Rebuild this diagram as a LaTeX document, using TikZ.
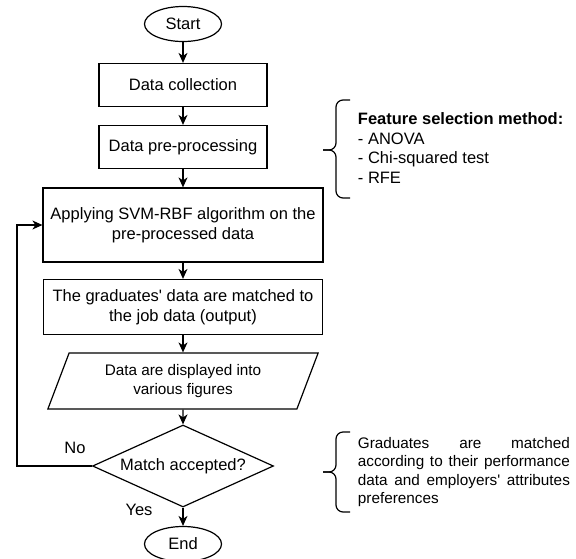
\documentclass[tikz,border=0pt]{standalone}
\usepackage{fontspec}
\setmainfont{Liberation Sans}[Ligatures=TeXOff]
\usetikzlibrary{shapes.geometric,arrows.meta}

\begin{document}
\begin{tikzpicture}[x=1pt,y=-1pt,line width=1.2pt,
    font=\fontsize{16.5}{20.5}\selectfont,
    stepbox/.style={draw,rectangle,inner sep=0pt,align=center},
    term/.style={draw,ellipse,inner sep=0pt,minimum width=77pt,minimum height=35pt},
    arr/.style={-{Stealth[length=10pt,width=9pt,inset=3pt]}}]
    \useasboundingbox (0,0) rectangle (576,558);
    % main flow
    \node[term] (start) at (183,24) {Start};
    \node[stepbox,minimum width=168pt,minimum height=43pt] (collect) at (183,85) {Data collection};
    \node[stepbox,minimum width=168pt,minimum height=43pt] (prep) at (183,147) {Data pre-processing};
    \node[stepbox,minimum width=280pt,minimum height=74pt] (svm) at (183,225) {Applying SVM-RBF algorithm on the\\pre-processed data};
    \node[stepbox,minimum width=279pt,minimum height=55pt] (match) at (183,307) {The graduates' data are matched to\\the job data (output)};
    \node[draw,trapezium,trapezium left angle=66,trapezium right angle=114,trapezium stretches=true,
        minimum width=271pt,minimum height=56pt,inner sep=0pt,align=center,
        font=\fontsize{15.3}{18.5}\selectfont] (disp) at (183,381) {Data are displayed into\\various figures};
    \node[draw,diamond,aspect=2.2,minimum width=181pt,minimum height=82pt,inner sep=0pt] (decide) at (183,466) {Match accepted?};
    \node[term] (stop) at (183,544) {End};
    \node (no) at (75,448) {No};
    \node (yes) at (139,510) {Yes};
    \coordinate (back) at (17,466);

    \draw[arr] (start) -- (collect);
    \draw[arr] (collect) -- (prep);
    \draw[arr] (prep) -- (svm);
    \draw[arr] (svm) -- (match);
    \draw[arr] (match) -- (disp);
    \draw[arr] (disp) -- (decide);
    \draw[arr] (decide) -- (stop);
    \draw[arr] (decide.west) -- (back) |- (svm.west);

    % side notes
    \draw[rounded corners=7pt] (350,100) -- (336,100) -- (336,150) -- (323,150);
    \draw[rounded corners=7pt] (350,198) -- (336,198) -- (336,150) -- (323,150);
    \node[anchor=west,align=left,font=\fontsize{16.5}{19.7}\selectfont] (feat) at (354,148)
        {\textbf{Feature selection method:}\\- ANOVA\\- Chi-squared test\\- RFE};
    \draw[rounded corners=7pt] (350,432) -- (336,432) -- (336,472) -- (323,472);
    \draw[rounded corners=7pt] (350,512) -- (336,512) -- (336,472) -- (323,472);
    \node[anchor=west,align=left,font=\fontsize{15.3}{18.5}\selectfont] (note) at (354,472)
        {\makebox[212pt][s]{Graduates are matched}\\\makebox[212pt][s]{according to their performance}\\
         \makebox[212pt][s]{data and employers' attributes}\\preferences};
\end{tikzpicture}
\end{document}
